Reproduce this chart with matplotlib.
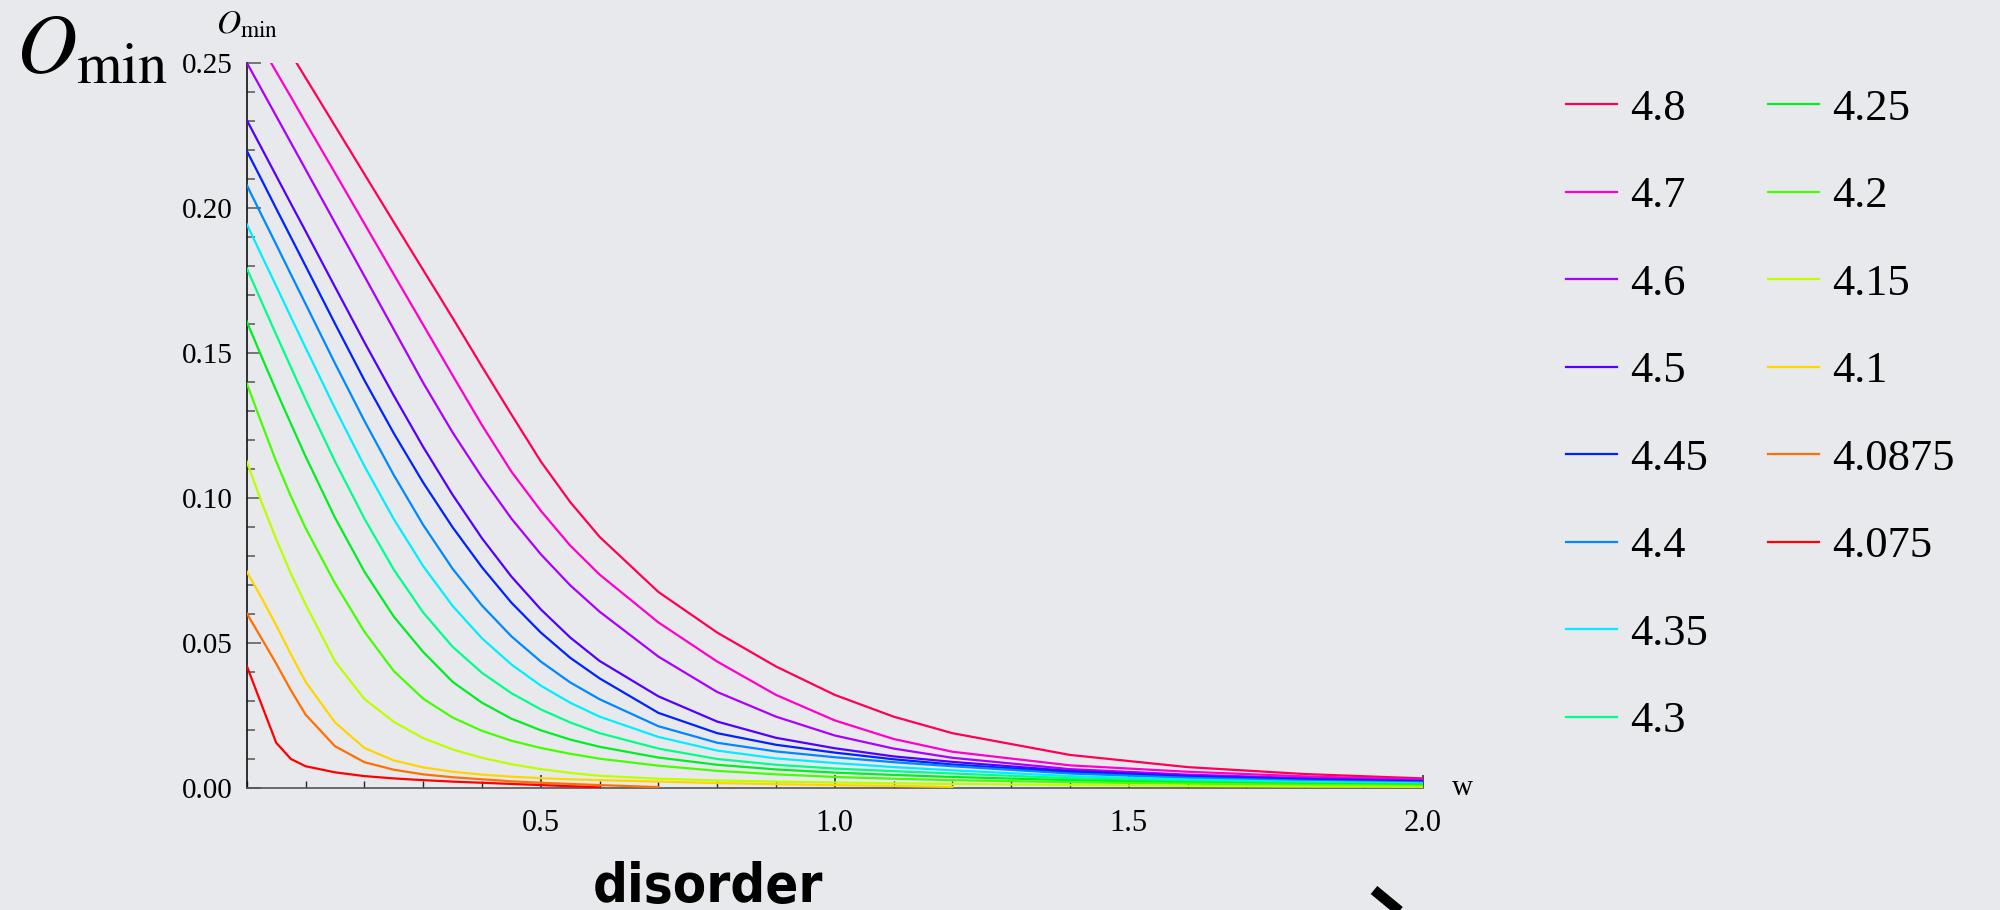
import numpy as np
import matplotlib
matplotlib.use("Agg")
import matplotlib.pyplot as plt
from matplotlib.lines import Line2D
from matplotlib.ticker import MultipleLocator, FormatStrFormatter

plt.rcParams["font.family"] = ["Liberation Serif", "DejaVu Serif"]
plt.rcParams["mathtext.fontset"] = "stix"

nan = np.nan

# disorder strength w (common sample grid)
w = [0, 0.025, 0.05, 0.075, 0.1, 0.15, 0.2, 0.25, 0.3, 0.35, 0.4, 0.45, 0.5, 0.55, 0.6,
     0.7, 0.8, 0.9, 1.0, 1.1, 1.2, 1.4, 1.6, 1.8, 2.0]

# O_min, one list per curve
o_480 = [0.278, 0.2697, 0.2614, 0.2531, 0.2448, 0.2282, 0.2116, 0.195, 0.1785, 0.162, 0.1452,
         0.1287, 0.1125, 0.0985, 0.0865, 0.0675, 0.0535, 0.0418, 0.032, 0.0245, 0.0188,
         0.0113, 0.0071, 0.0047, 0.0032]
o_470 = [0.2643, 0.2556, 0.2469, 0.2382, 0.2294, 0.212, 0.1945, 0.177, 0.1596, 0.1422, 0.125,
         0.109, 0.0955, 0.0835, 0.0735, 0.057, 0.0435, 0.032, 0.0232, 0.0168, 0.0124,
         0.0077, 0.0055, 0.0039, 0.0028]
o_460 = [0.25, 0.2408, 0.2316, 0.2224, 0.2132, 0.1948, 0.1764, 0.158, 0.1396, 0.1225, 0.107,
         0.0928, 0.0805, 0.0698, 0.0607, 0.0452, 0.033, 0.0245, 0.018, 0.0135, 0.0103,
         0.0064, 0.0045, 0.0033, 0.0025]
o_450 = [0.2302, 0.2206, 0.211, 0.2014, 0.1919, 0.1727, 0.1536, 0.1352, 0.1175, 0.101, 0.086,
         0.0728, 0.0615, 0.0518, 0.0437, 0.0315, 0.0228, 0.0172, 0.0136, 0.0108, 0.0089,
         0.0058, 0.0041, 0.003, 0.0022]
o_445 = [0.2196, 0.2097, 0.1997, 0.1898, 0.1799, 0.16, 0.1405, 0.1222, 0.1052, 0.0898, 0.076,
         0.0638, 0.0535, 0.0448, 0.0377, 0.0258, 0.0188, 0.0148, 0.0121, 0.0098, 0.008,
         0.0054, 0.0037, 0.0027, 0.002]
o_440 = [0.2078, 0.1975, 0.1873, 0.177, 0.1668, 0.1463, 0.1265, 0.1078, 0.0906, 0.0755, 0.0628,
         0.0522, 0.0435, 0.0363, 0.0305, 0.0212, 0.0155, 0.0125, 0.0105, 0.0088, 0.0074,
         0.0049, 0.0034, 0.0024, 0.0018]
o_435 = [0.1943, 0.1836, 0.173, 0.1623, 0.1517, 0.1308, 0.1109, 0.0926, 0.0764, 0.0627, 0.0515,
         0.0425, 0.0352, 0.0293, 0.0245, 0.0175, 0.0128, 0.0101, 0.0085, 0.0071, 0.006,
         0.004, 0.0028, 0.002, 0.0015]
o_430 = [0.1791, 0.1676, 0.1562, 0.145, 0.1338, 0.1125, 0.0928, 0.0752, 0.0604, 0.0486, 0.0396,
         0.0326, 0.027, 0.0225, 0.0188, 0.0135, 0.0099, 0.0079, 0.0066, 0.0057, 0.0049,
         0.0033, 0.0023, 0.0016, 0.0012]
o_425 = [0.1607, 0.1487, 0.1369, 0.1255, 0.1142, 0.0931, 0.0745, 0.059, 0.0468, 0.0365, 0.0293,
         0.0238, 0.0198, 0.0166, 0.0141, 0.0104, 0.0079, 0.0063, 0.0052, 0.0044, 0.0037,
         0.0026, 0.0018, 0.0013, 0.001]
o_420 = [0.1394, 0.1258, 0.1125, 0.1005, 0.0895, 0.0705, 0.0538, 0.0402, 0.0307, 0.0242, 0.0196,
         0.0162, 0.0137, 0.0117, 0.01, 0.0076, 0.0058, 0.0046, 0.0037, 0.0031, 0.0026,
         0.0019, 0.0014, 0.001, 0.0007]
o_415 = [0.1124, 0.0985, 0.0857, 0.0738, 0.0632, 0.0436, 0.0306, 0.0227, 0.0171, 0.0132, 0.0103,
         0.0081, 0.0064, 0.0051, 0.0041, 0.0031, 0.0025, 0.0021, 0.0018, 0.0015, 0.0013,
         0.0009, 0.0006, 0.0004, 0.0003]
o_410 = [0.0745, 0.0655, 0.056, 0.046, 0.0365, 0.0225, 0.0137, 0.0094, 0.007, 0.0055, 0.0045,
         0.0038, 0.0033, 0.0029, 0.0026, 0.0021, 0.0016, 0.0012, 0.0009, 0.0006, 0.0003,
         nan, nan, nan, nan]
o_40875 = [0.0601, 0.0515, 0.0428, 0.0336, 0.0252, 0.0143, 0.0088, 0.0062, 0.0046, 0.0036, 0.0029,
           0.0022, 0.0017, 0.0013, 0.0009, 0.0002, nan, nan, nan, nan, nan,
           nan, nan, nan, nan]
o_4075 = [0.042, 0.0287, 0.0155, 0.0099, 0.0074, 0.0053, 0.004, 0.0032, 0.0026, 0.0021, 0.0017,
          0.0013, 0.0009, 0.0005, 0.0001, nan, nan, nan, nan, nan, nan,
          nan, nan, nan, nan]

labels = ["4.8", "4.7", "4.6", "4.5", "4.45", "4.4", "4.35", "4.3",
          "4.25", "4.2", "4.15", "4.1", "4.0875", "4.075"]
series = [o_480, o_470, o_460, o_450, o_445, o_440, o_435, o_430,
          o_425, o_420, o_415, o_410, o_40875, o_4075]
colors = ["#ff0055", "#ff00cc", "#aa00ff", "#5500ff", "#0022ff", "#0088ff", "#00eeff", "#00ff88",
          "#00ee22", "#44ff00", "#bbff00", "#ffd500", "#ff7000", "#ff0000"]

bg = "#e8e9ed"
fig = plt.figure(figsize=(20, 9.1), dpi=100, facecolor=bg)
ax = fig.add_axes([0.1234, 0.1344, 0.588, 0.7967])
ax.set_facecolor("none")

handles = []
for lab, ys, c in zip(labels, series, colors):
    ln, = ax.plot(w, ys, color=c, lw=1.6, label=lab, zorder=3)
    handles.append(ln)

ax.set_xlim(0, 2.0)
ax.set_ylim(0, 0.25)
for s in ["top", "right"]:
    ax.spines[s].set_visible(False)
ax.spines["left"].set_color("#111111")
ax.spines["bottom"].set_color("#555555")
ax.spines["left"].set_linewidth(1.2)
ax.spines["bottom"].set_linewidth(1.2)

ax.xaxis.set_major_locator(MultipleLocator(0.5))
ax.xaxis.set_minor_locator(MultipleLocator(0.1))
ax.yaxis.set_major_locator(MultipleLocator(0.05))
ax.yaxis.set_minor_locator(MultipleLocator(0.01))
ax.xaxis.set_major_formatter(FormatStrFormatter("%.1f"))
ax.yaxis.set_major_formatter(FormatStrFormatter("%.2f"))
ax.set_xticks([0.5, 1.0, 1.5, 2.0])

ax.tick_params(axis="y", which="major", direction="in", length=10, width=1.1,
               color="#555555", labelsize=21, pad=10)
ax.tick_params(axis="y", which="minor", direction="in", length=5.8, width=1.1, color="#555555")
ax.tick_params(axis="x", which="major", direction="in", length=9.5, width=1.1,
               color="#222222", labelsize=22, pad=15)
ax.tick_params(axis="x", which="minor", direction="in", length=5, width=1.0, color="#222222")

# blank slot so the first column holds eight entries
blank = Line2D([], [], color="none")
ax.legend(handles + [blank], labels + [""], loc="upper left",
          bbox_to_anchor=(0.783, 0.9025), bbox_transform=fig.transFigure,
          ncol=2, frameon=False, fontsize=32, handlelength=1.15, handletextpad=0.29,
          labelspacing=1.066, columnspacing=1.36, borderpad=0, borderaxespad=0)

# axis labels
fig.text(0.108, 0.9637, r"$O_{\rm min}$", fontsize=24, va="baseline", ha="left")
fig.text(0.008, 0.921, r"$O_{\rm min}$", fontsize=60, va="baseline", ha="left")
fig.text(0.726, 0.1264, "w", fontsize=21, va="baseline", ha="left")

fig.text(0.2965, 0.009, "disorder", fontsize=39, fontweight="bold", fontstretch="condensed",
         family=["DejaVu Sans"], va="baseline", ha="left")

# start of the thick arrow at the bottom edge
fig.add_artist(Line2D([1374 / 2000, 1420 / 2000], [1 - 890 / 910, 1 - 928 / 910],
                      transform=fig.transFigure, color="black", lw=7.5,
                      solid_capstyle="butt"))

fig.savefig("out.png", dpi=100, facecolor=bg)
